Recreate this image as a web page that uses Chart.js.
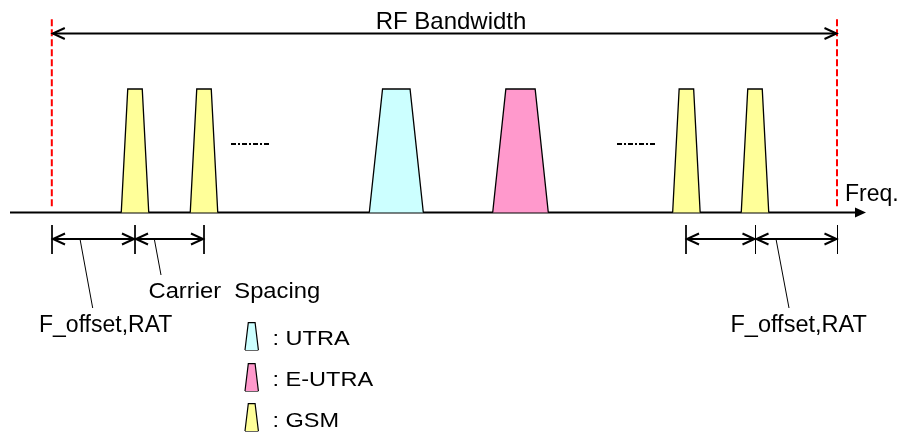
<!DOCTYPE html>
<html>
<head>
<meta charset="utf-8">
<script src="https://cdn.jsdelivr.net/npm/chart.js@4"></script>
<style>
  body { margin: 0; background: #fff; }
  #wrap { width: 907px; height: 432px; }
</style>
</head>
<body>
<div id="wrap"><canvas id="canvas"></canvas></div>
<script>
// carriers inside the RF bandwidth (frequency units along the axis)
var carrierTypes   = ['GSM', 'GSM', 'UTRA', 'E-UTRA', 'GSM', 'GSM'];
var carrierCentres = [135, 204, 396.3, 520.5, 686.4, 755];
var carrierHeight  = 123.5;

// shape of each RAT block: bottom width / top width
var ratNames     = ['UTRA', 'E-UTRA', 'GSM'];
var ratColours   = ['#CCFFFF', '#FF99CC', '#FFFF99'];
var bottomWidths = [54, 55.6, 27.5];
var topWidths    = [27.5, 29.3, 14.5];

var bandEdges = [51.8, 837];          // RF bandwidth edges
var leftMarks  = [52, 135, 204];      // F_offset + carrier spacing ticks
var rightMarks = [686, 755.5, 837.5];

var datasets = [];

function ratIndex(name) { return ratNames.indexOf(name); }

function trapezoid(c, k, base, h) {
  var bw = bottomWidths[k], tw = topWidths[k];
  return [
    {x: c - bw / 2, y: base},
    {x: c - tw / 2, y: base + h},
    {x: c + tw / 2, y: base + h},
    {x: c + bw / 2, y: base}
  ];
}

function line(pts, opts) {
  var d = Object.assign({
    data: pts,
    borderColor: '#000',
    borderWidth: 2,
    pointRadius: 0,
    fill: false,
    tension: 0,
    clip: false
  }, opts || {});
  datasets.push(d);
}

// carriers
for (let i = 0; i < carrierTypes.length; i++) {
  var k = ratIndex(carrierTypes[i]);
  line(trapezoid(carrierCentres[i], k, 0, carrierHeight), {
    backgroundColor: ratColours[k], borderWidth: 1.3, fill: 'origin'
  });
}

// frequency axis
line([{x: 10, y: 0}, {x: 857, y: 0}], {arrows: [{at: 'end', kind: 'solid'}]});

// RF bandwidth edges
bandEdges.forEach(function (x) {
  line([{x: x, y: 193.2}, {x: x, y: 4.5}], {borderColor: '#FF0000', borderDash: [7, 3]});
});

// RF bandwidth arrow
line([{x: bandEdges[0] + 1, y: 179}, {x: bandEdges[1] - 0.5, y: 179}],
  {arrows: [{at: 'start', kind: 'open'}, {at: 'end', kind: 'open'}]});

// "......" between carriers
line([{x: 231, y: 68.5}, {x: 271, y: 68.5}], {borderWidth: 1.8, borderDash: [5, 2, 2, 2]});
line([{x: 617, y: 68.5}, {x: 657, y: 68.5}], {borderWidth: 1.8, borderDash: [5, 2, 2, 2]});

// spacing marks below the axis
[leftMarks, rightMarks].forEach(function (marks) {
  marks.forEach(function (x) {
    line([{x: x, y: -12.5}, {x: x, y: -41.5}], {borderWidth: 1});
  });
  for (let i = 0; i < marks.length - 1; i++) {
    line([{x: marks[i] + 1, y: -26.5}, {x: marks[i + 1] - 1, y: -26.5}],
      {arrows: [{at: 'start', kind: 'open'}, {at: 'end', kind: 'open'}]});
  }
});

// leader lines
line([{x: 80, y: -26.5}, {x: 92.7, y: -95.5}], {borderWidth: 1});
line([{x: 154.3, y: -26.5}, {x: 161, y: -62.5}], {borderWidth: 1});
line([{x: 776, y: -26.5}, {x: 789, y: -95.5}], {borderWidth: 1});

// legend icons: outline filled down to its own bottom edge (next dataset)
var legendBases = [-137.5, -178.5, -218.5];
for (let k = 0; k < ratNames.length; k++) {
  var c = 251.7, b = legendBases[k];
  line([
    {x: c - 6.7, y: b}, {x: c - 3.4, y: b + 27.3},
    {x: c + 3.4, y: b + 27.3}, {x: c + 6.7, y: b}
  ], {borderWidth: 1.2, backgroundColor: ratColours[k], fill: '+1'});
  line([{x: c - 6.7, y: b}, {x: c + 6.7, y: b}], {borderWidth: 1.2});
}

// text
var captions = [
  {text: 'RF Bandwidth', x: 451, y: 183.5, size: 24, align: 'center'},
  {text: 'Freq.', x: 845, y: 11.5, size: 23},
  {text: 'Carrier  Spacing', x: 148.5, y: -85.5, size: 22, sx: 1.08},
  {text: 'F_offset,RAT', x: 39, y: -119.2, size: 23},
  {text: 'F_offset,RAT', x: 730.5, y: -119.2, size: 23.5},
  {text: ': UTRA', x: 272.5, y: -132.8, size: 21, sx: 1.12},
  {text: ': E-UTRA', x: 272.5, y: -173.5, size: 21, sx: 1.12},
  {text: ': GSM', x: 272.5, y: -214.3, size: 21, sx: 1.12}
];

const arrowHeads = {
  id: 'arrowHeads',
  afterDatasetsDraw(chart) {
    const ctx = chart.ctx;
    chart.data.datasets.forEach(function (ds, i) {
      if (!ds.arrows) return;
      const pts = chart.getDatasetMeta(i).data;
      ds.arrows.forEach(function (a) {
        var tip, from;
        if (a.at === 'start') { tip = pts[0]; from = pts[1]; }
        else { tip = pts[pts.length - 1]; from = pts[pts.length - 2]; }
        var ang = Math.atan2(tip.y - from.y, tip.x - from.x);
        ctx.save();
        ctx.translate(tip.x, tip.y);
        ctx.rotate(ang);
        ctx.strokeStyle = '#000';
        ctx.fillStyle = '#000';
        ctx.lineWidth = 2;
        ctx.beginPath();
        if (a.kind === 'solid') {
          ctx.moveTo(9, 0);
          ctx.lineTo(-2, -5);
          ctx.lineTo(-2, 5);
          ctx.closePath();
          ctx.fill();
        } else {
          ctx.moveTo(-12, -5.5);
          ctx.lineTo(0, 0);
          ctx.lineTo(-12, 5.5);
          ctx.stroke();
        }
        ctx.restore();
      });
    });
  }
};

const textLabels = {
  id: 'textLabels',
  afterDraw(chart) {
    const ctx = chart.ctx;
    const xs = chart.scales.x, ys = chart.scales.y;
    captions.forEach(function (t) {
      ctx.save();
      ctx.translate(xs.getPixelForValue(t.x), ys.getPixelForValue(t.y));
      ctx.scale(t.sx || 1, 1);
      ctx.font = t.size + 'px "Liberation Sans", Arial, sans-serif';
      ctx.fillStyle = '#000';
      ctx.textAlign = t.align || 'left';
      ctx.textBaseline = 'alphabetic';
      ctx.fillText(t.text, 0, 0);
      ctx.restore();
    });
  }
};

const ctx = document.getElementById('canvas');

new Chart(ctx, {
  type: 'line',
  data: { datasets: datasets },
  options: {
    responsive: true,
    maintainAspectRatio: false,
    animation: false,
    devicePixelRatio: 1,
    layout: { padding: 0 },
    plugins: { legend: { display: false }, tooltip: { enabled: false } },
    scales: {
      x: { type: 'linear', min: 0, max: 907, display: false },
      y: { type: 'linear', min: -219.5, max: 212.5, display: false }
    }
  },
  plugins: [arrowHeads, textLabels]
});
</script>
</body>
</html>
